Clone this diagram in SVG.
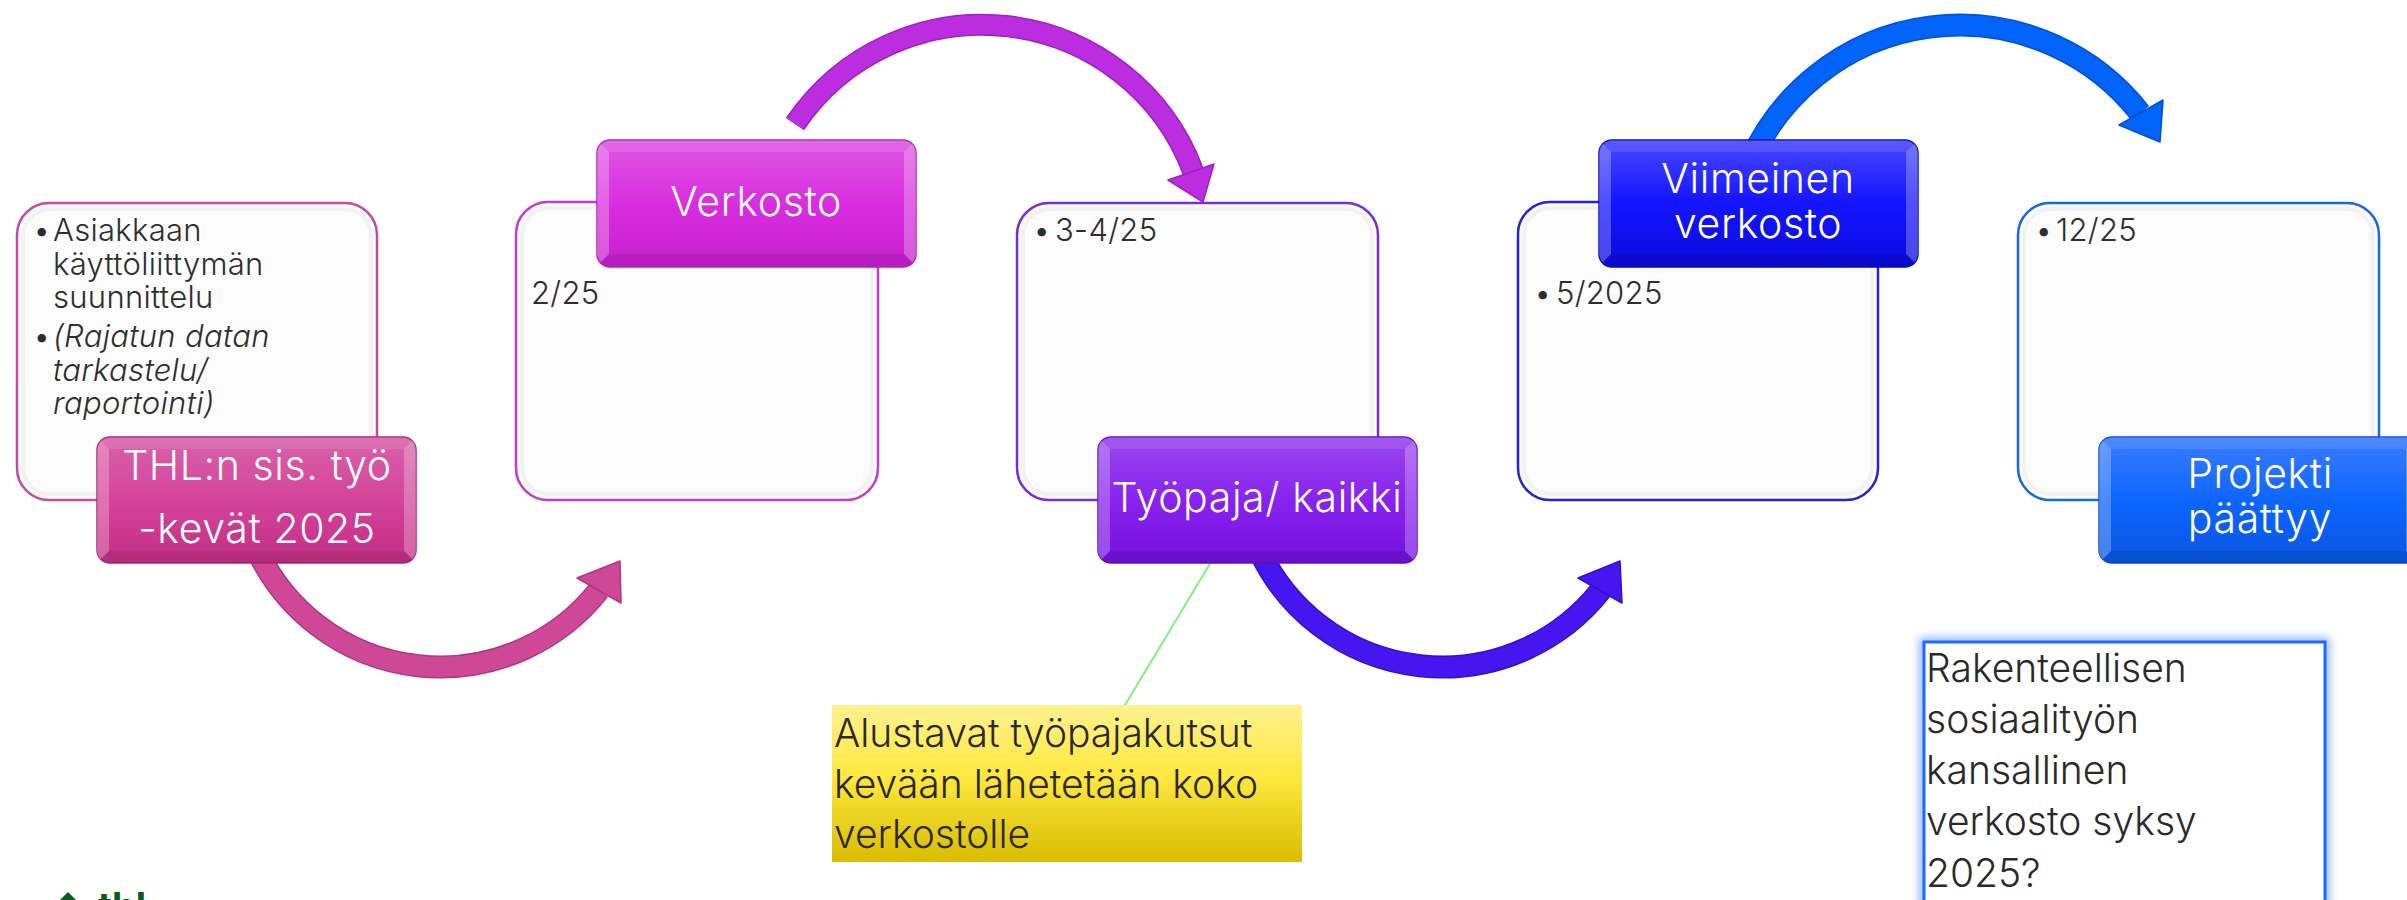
<svg xmlns="http://www.w3.org/2000/svg" xmlns:xlink="http://www.w3.org/1999/xlink" width="2407" height="900" viewBox="0 0 2407 900">
<style>
  text { font-family: "Inter", "Open Sans", "Liberation Sans", sans-serif; font-weight: 300; }
  .body { font-size: 31px; fill: #2e2e2e; letter-spacing: 0.3px; }
  .lbl { font-size: 41px; fill: #ffffff; text-anchor: middle; letter-spacing: 0.6px; }
  .note { font-size: 39px; fill: #2a2a2a; }
  .box { fill: #fcfcfc; stroke-width: 2.5; }
  .inner { fill: none; stroke: #f2f2f2; stroke-width: 4; }
  .arc { fill: none; stroke-linecap: butt; }
</style>
<defs>
  <linearGradient id="g1" x1="0" y1="0" x2="0" y2="1">
    <stop offset="0" stop-color="#D862AA"/><stop offset="0.5" stop-color="#D4449A"/><stop offset="1" stop-color="#C22E85"/>
  </linearGradient>
  <linearGradient id="g2" x1="0" y1="0" x2="0" y2="1">
    <stop offset="0" stop-color="#DE58E2"/><stop offset="0.5" stop-color="#D92EDF"/><stop offset="1" stop-color="#C620CF"/>
  </linearGradient>
  <linearGradient id="g3" x1="0" y1="0" x2="0" y2="1">
    <stop offset="0" stop-color="#9748EE"/><stop offset="0.5" stop-color="#8A22EE"/><stop offset="1" stop-color="#7410DC"/>
  </linearGradient>
  <linearGradient id="g4" x1="0" y1="0" x2="0" y2="1">
    <stop offset="0" stop-color="#4848FF"/><stop offset="0.5" stop-color="#1414FF"/><stop offset="1" stop-color="#0A0ADE"/>
  </linearGradient>
  <linearGradient id="g5" x1="0" y1="0" x2="0" y2="1">
    <stop offset="0" stop-color="#3C7CFF"/><stop offset="0.5" stop-color="#0D66FF"/><stop offset="1" stop-color="#0A55E0"/>
  </linearGradient>
  <linearGradient id="gy" x1="0" y1="0" x2="0" y2="1">
    <stop offset="0" stop-color="#FFF18E"/><stop offset="0.45" stop-color="#FFE840"/><stop offset="1" stop-color="#D8BD00"/>
  </linearGradient>
  <clipPath id="lblclip"><rect x="0" y="0" width="319" height="126" rx="13"/></clipPath>
  <g id="bevel" clip-path="url(#lblclip)">
    <polygon points="0,0 319,0 307,12 12,12" fill="#ffffff" opacity="0.10"/>
    <polygon points="0,0 12,12 12,114 0,126" fill="#ffffff" opacity="0.25"/>
    <polygon points="319,0 319,126 307,114 307,12" fill="#ffffff" opacity="0.25"/>
    <polygon points="0,126 12,114 307,114 319,126" fill="#000000" opacity="0.08"/>
  </g>
  <filter id="glow" x="-10%" y="-10%" width="120%" height="120%">
    <feGaussianBlur stdDeviation="4"/>
  </filter>
</defs>

<g id="connectors">
  <path class="arc" d="M258,552 A202,202 0 0 0 599,590" stroke="#B03580" stroke-width="23"/>
  <path class="arc" d="M258,552 A202,202 0 0 0 599,590" stroke="#CF4898" stroke-width="20"/>
  <polygon points="620,561 577,578 621,603" fill="#CF4898" stroke="#B03580" stroke-width="1.5" stroke-linejoin="round"/>
  <path class="arc" d="M795,124 A225.5,225.5 0 0 1 1193,171" stroke="#9C22C4" stroke-width="22"/>
  <path class="arc" d="M795,124 A225.5,225.5 0 0 1 1193,171" stroke="#BB2DDE" stroke-width="19"/>
  <polygon points="1203,202 1168,180 1214,164" fill="#BB2DDE" stroke="#9C22C4" stroke-width="1.5" stroke-linejoin="round"/>
  <path class="arc" d="M1260,552 A202,202 0 0 0 1601,590" stroke="#3510C8" stroke-width="23"/>
  <path class="arc" d="M1260,552 A202,202 0 0 0 1601,590" stroke="#4616F0" stroke-width="20"/>
  <polygon points="1620,561 1578,578 1622,603" fill="#4616F0" stroke="#3510C8" stroke-width="1.5" stroke-linejoin="round"/>
  <path class="arc" d="M1750,162 A229,229 0 0 1 2140,113" stroke="#0050D8" stroke-width="23"/>
  <path class="arc" d="M1750,162 A229,229 0 0 1 2140,113" stroke="#0064FA" stroke-width="20"/>
  <polygon points="2160,142 2119,125 2163,100" fill="#0064FA" stroke="#0050D8" stroke-width="1.5" stroke-linejoin="round"/>
  <line x1="1217" y1="552" x2="1113" y2="725" stroke="#7CF47C" stroke-width="2"/>
</g>

<g id="node1">
  <rect class="box" x="17" y="203" width="360" height="297" rx="32" stroke="#C24CA0"/>
  <rect class="inner" x="23" y="209" width="348" height="285" rx="27"/>
  <text class="body" x="33" y="241">•</text>
  <text class="body" x="53" y="241">Asiakkaan</text>
  <text class="body" x="53" y="275">käyttöliittymän</text>
  <text class="body" x="53" y="308">suunnittelu</text>
  <text class="body" x="33" y="347">•</text>
  <text class="body" x="53" y="347" font-style="italic">(Rajatun datan</text>
  <text class="body" x="53" y="381" font-style="italic">tarkastelu/</text>
  <text class="body" x="53" y="414" font-style="italic">raportointi)</text>
  <g transform="translate(97,437)">
    <rect x="0" y="0" width="319" height="126" rx="13" fill="url(#g1)" stroke="#A8287A" stroke-width="1.5"/>
    <use xlink:href="#bevel"/>
  </g>
  <text class="lbl" x="257" y="480">THL:n sis. työ</text>
  <text class="lbl" x="257" y="543">-kevät 2025</text>
</g>

<g id="node2">
  <rect class="box" x="516" y="202" width="362" height="298" rx="32" stroke="#C23CD2"/>
  <rect class="inner" x="522" y="208" width="350" height="286" rx="27"/>
  <text class="body" x="531" y="304">2/25</text>
  <g transform="translate(597,140)">
    <rect x="0" y="0" width="319" height="127" rx="13" fill="url(#g2)" stroke="#B020BA" stroke-width="1.5"/>
    <use xlink:href="#bevel"/>
  </g>
  <text class="lbl" x="756" y="216">Verkosto</text>
</g>

<g id="node3">
  <rect class="box" x="1017" y="203" width="361" height="297" rx="32" stroke="#7A2AD6"/>
  <rect class="inner" x="1023" y="209" width="349" height="285" rx="27"/>
  <text class="body" x="1033" y="241">•</text>
  <text class="body" x="1055" y="241">3-4/25</text>
  <g transform="translate(1098,437)">
    <rect x="0" y="0" width="319" height="126" rx="13" fill="url(#g3)" stroke="#6410C0" stroke-width="1.5"/>
    <use xlink:href="#bevel"/>
  </g>
  <text class="lbl" x="1257" y="512">Työpaja/ kaikki</text>
</g>

<g id="node4">
  <rect class="box" x="1518" y="202" width="360" height="298" rx="32" stroke="#2222D6"/>
  <rect class="inner" x="1524" y="208" width="348" height="286" rx="27"/>
  <text class="body" x="1534" y="304">•</text>
  <text class="body" x="1556" y="304">5/2025</text>
  <g transform="translate(1599,140)">
    <rect x="0" y="0" width="319" height="127" rx="13" fill="url(#g4)" stroke="#0808C0" stroke-width="1.5"/>
    <use xlink:href="#bevel"/>
  </g>
  <text class="lbl" x="1758" y="193">Viimeinen</text>
  <text class="lbl" x="1758" y="238">verkosto</text>
</g>

<g id="node5">
  <rect class="box" x="2018" y="203" width="361" height="297" rx="32" stroke="#1A66E0"/>
  <rect class="inner" x="2024" y="209" width="349" height="285" rx="27"/>
  <text class="body" x="2035" y="241">•</text>
  <text class="body" x="2056" y="241">12/25</text>
  <g transform="translate(2099,437)">
    <rect x="0" y="0" width="322" height="126" rx="13" fill="url(#g5)" stroke="#0A50D0" stroke-width="1.5"/>
    <use xlink:href="#bevel"/>
  </g>
  <text class="lbl" x="2260" y="488">Projekti</text>
  <text class="lbl" x="2260" y="533">päättyy</text>
</g>

<g id="note-yellow">
  <rect x="832" y="705" width="470" height="157" fill="url(#gy)"/>
  <text class="note" x="834" y="747">Alustavat työpajakutsut</text>
  <text class="note" x="834" y="798">kevään lähetetään koko</text>
  <text class="note" x="834" y="848">verkostolle</text>
</g>

<g id="note-blue">
  <rect x="1924" y="642" width="401" height="262" fill="none" stroke="#8FB2FF" stroke-width="9" filter="url(#glow)"/>
  <rect x="1924" y="642" width="401" height="262" fill="#ffffff" stroke="#1A6BFF" stroke-width="3"/>
  <text class="note" x="1926" y="682">Rakenteellisen</text>
  <text class="note" x="1926" y="733">sosiaalityön</text>
  <text class="note" x="1926" y="784">kansallinen</text>
  <text class="note" x="1926" y="835">verkosto syksy</text>
  <text class="note" x="1926" y="887">2025?</text>
</g>

<g id="logo">
  <polygon points="68,892 81,905 68,918 55,905" fill="#0B5A23"/>
  <text x="98" y="920" font-size="38" fill="#0B5A23" style="font-weight:700">thl</text>
</g>
</svg>
